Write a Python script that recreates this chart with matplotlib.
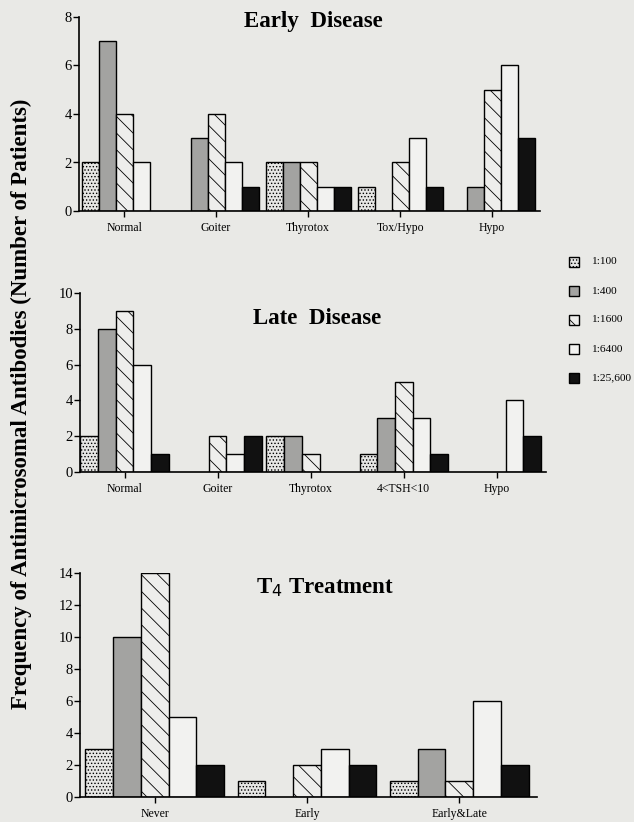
import numpy as np
import matplotlib.pyplot as plt
from matplotlib.patches import Rectangle

titers = ['1:100', '1:400', '1:1600', '1:6400', '1:25,600']

early_cats = ['Normal', 'Goiter', 'Thyrotox', 'Tox/Hypo', 'Hypo']
early_vals = [
    [2, 0, 2, 1, 0],   # 1:100
    [7, 3, 2, 0, 1],   # 1:400
    [4, 4, 2, 2, 5],   # 1:1600
    [2, 2, 1, 3, 6],   # 1:6400
    [0, 1, 1, 1, 3],   # 1:25,600
]

late_cats = ['Normal', 'Goiter', 'Thyrotox', '4<TSH<10', 'Hypo']
late_vals = [
    [2, 0, 2, 1, 0],
    [8, 0, 2, 3, 0],
    [9, 2, 1, 5, 0],
    [6, 1, 0, 3, 4],
    [1, 2, 0, 1, 2],
]

t4_cats = ['Never', 'Early', 'Early&Late']
t4_vals = [
    [3, 1, 1],
    [10, 0, 3],
    [14, 2, 1],
    [5, 3, 6],
    [2, 2, 2],
]

bg = '#e9e9e6'
# fill / hatch per titer
faces = ['#e6e6e4', '#a3a3a1', '#eeeeec', '#f2f2f0', '#111111']
hatches = ['.....', None, '\\\\', None, None]

plt.rcParams['font.family'] = ['Liberation Serif', 'DejaVu Serif']
plt.rcParams['hatch.linewidth'] = 0.6

W, H = 634, 822
fig = plt.figure(figsize=(W / 100, H / 100), dpi=100, facecolor=bg)


def px_axes(left, right, top, bottom):
    return fig.add_axes([left / W, 1 - bottom / H, (right - left) / W, (bottom - top) / H])


def draw_panel(ax, cats, vals, width, xlim, ylim, yticks, title, title_xy):
    ax.set_facecolor(bg)
    x = np.arange(len(cats))
    for i, series in enumerate(vals):
        offs = (i - 2) * width
        for xi, v in zip(x, series):
            if v == 0:
                continue
            ax.bar(xi + offs, v, width, color=faces[i], edgecolor='black',
                   linewidth=1.0, hatch=hatches[i], zorder=2)
    ax.set_xlim(*xlim)
    ax.set_ylim(*ylim)
    ax.set_yticks(yticks)
    ax.set_xticks(x)
    ax.set_xticklabels(cats, fontsize=8.5)
    ax.tick_params(axis='y', labelsize=10.5, length=4, width=1, pad=1)
    ax.tick_params(axis='x', length=4, width=1, pad=4)
    for s in ['top', 'right']:
        ax.spines[s].set_visible(False)
    ax.spines['left'].set_linewidth(1.2)
    ax.spines['bottom'].set_linewidth(1.2)
    fig.text(title_xy[0] / W, 1 - title_xy[1] / H, title, fontsize=16.5,
             fontweight='bold', ha='center', va='center')


ax1 = px_axes(79, 540, 17, 211)
draw_panel(ax1, early_cats, early_vals, 0.185, (-0.49, 4.52), (0, 8),
           [0, 2, 4, 6, 8], 'Early  Disease', (313, 21))

ax2 = px_axes(80, 546, 293, 472)
draw_panel(ax2, late_cats, late_vals, 0.19, (-0.48, 4.53), (0, 10),
           [0, 2, 4, 6, 8, 10], 'Late  Disease', (317, 318))

ax3 = px_axes(80, 537, 573, 797)
draw_panel(ax3, t4_cats, t4_vals, 0.182, (-0.49, 2.51), (0, 14),
           [0, 2, 4, 6, 8, 10, 12, 14], r'T$_4$ Treatment', (325, 588))

# legend
leg_y = [262, 291, 320, 349, 378]
for i, lab in enumerate(titers):
    sq = Rectangle(((574 - 5) / W, 1 - (leg_y[i] + 5) / H), 10 / W, 10 / H,
                   transform=fig.transFigure, facecolor=faces[i],
                   edgecolor='black', linewidth=1.0, hatch=hatches[i])
    fig.patches.append(sq)
    fig.text(591 / W, 1 - leg_y[i] / H, lab, fontsize=8.2, ha='left', va='center')

fig.text(21 / W, 1 - 404 / H,
         'Frequency of Antimicrosomal Antibodies (Number of Patients)',
         rotation=90, fontsize=16.5, fontweight='bold', ha='center', va='center')

fig.savefig('out.png', dpi=100, facecolor=bg)
